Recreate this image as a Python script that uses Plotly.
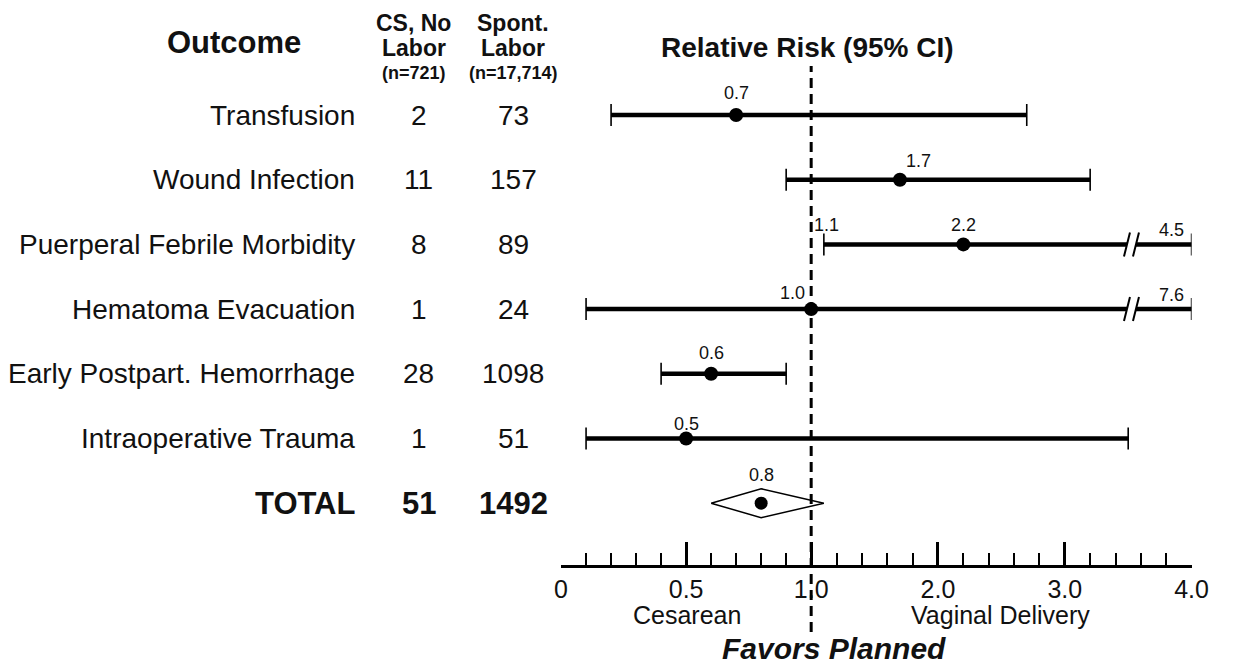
import plotly.graph_objects as go

# ---------------- data ----------------
outcomes = ["Transfusion", "Wound Infection", "Puerperal Febrile Morbidity",
            "Hematoma Evacuation", "Early Postpart. Hemorrhage", "Intraoperative Trauma"]
cs_no_labor = [2, 11, 8, 1, 28, 1]
spont_labor = [73, 157, 89, 24, 1098, 51]
rel_risk = [0.7, 1.7, 2.2, 1.0, 0.6, 0.5]
ci_low = [0.2, 0.9, 1.1, 0.1, 0.4, 0.1]
ci_high = [2.7, 3.2, 4.5, 7.6, 0.9, 3.5]

total_label = "TOTAL"
total_cs = 51
total_spont = 1492
total_rr = 0.8
total_low = 0.6
total_high = 1.1

col1_header = ["CS, No", "Labor", "(n=721)"]
col2_header = ["Spont.", "Labor", "(n=17,714)"]

tick_values = [0, 0.5, 1.0, 2.0, 3.0, 4.0]
tick_labels = ["0", "0.5", "1.0", "2.0", "3.0", "4.0"]
minor_values = [0.1, 0.2, 0.3, 0.4, 0.6, 0.7, 0.8, 0.9,
                1.2, 1.4, 1.6, 1.8, 2.2, 2.4, 2.6, 2.8, 3.2, 3.4, 3.6, 3.8]
axis_max = 4.0
ref_value = 1.0
break_at = 3.53

# extra labels for CI bounds (row index, which bound)
bound_labels = [(2, "low"), (2, "high"), (3, "high")]

# ---------------- scale (broken axis: 0-1 wide, 1-4 compressed) ----------------
RIGHT_SCALE = 0.507


def sx(v):
    return v if v <= 1 else 1 + (v - 1) * RIGHT_SCALE


# ---------------- layout geometry / style ----------------
W, H = 1239, 668
AX_Y = 565
ROW0, ROW_STEP = 115, 64.7
X0_PX, X1_PX = 565, 1208
FONT = "Liberation Sans, Arial, Helvetica, sans-serif"
INK = "#111111"


def px(x):
    return x / W


def py(y):
    return 1 - y / H


n = len(outcomes)
rows = list(range(n))
total_row = n

fig = go.Figure()

# CI lines
xs, ys = [], []
for i in rows:
    xs += [sx(ci_low[i]), sx(min(ci_high[i], axis_max)), None]
    ys += [i, i, None]
fig.add_trace(go.Scatter(x=xs, y=ys, mode="lines", line=dict(color="black", width=4.5),
                         cliponaxis=False, hoverinfo="skip"))

# points with end caps
fig.add_trace(go.Scatter(
    x=[sx(v) for v in rel_risk], y=rows, mode="markers",
    marker=dict(size=14, color="black"),
    error_x=dict(type="data", symmetric=False,
                 array=[sx(min(h, axis_max)) - sx(p) for h, p in zip(ci_high, rel_risk)],
                 arrayminus=[sx(p) - sx(l) for p, l in zip(rel_risk, ci_low)],
                 width=11, thickness=1.6, color="black"),
    cliponaxis=False))

# total diamond
DH = 14.5 / ROW_STEP
fig.add_trace(go.Scatter(
    x=[sx(total_low), sx(total_rr), sx(total_high), sx(total_rr), sx(total_low)],
    y=[total_row, total_row - DH, total_row, total_row + DH, total_row],
    mode="lines", fill="toself", fillcolor="white",
    line=dict(color="black", width=1.5), cliponaxis=False))
fig.add_trace(go.Scatter(x=[sx(total_rr)], y=[total_row], mode="markers",
                         marker=dict(size=13, color="black"), cliponaxis=False))

shapes = []
# reference dashed line
shapes.append(dict(type="line", xref="x", yref="paper", x0=sx(ref_value), x1=sx(ref_value),
                   y0=py(632), y1=py(66), layer="above",
                   line=dict(color="black", width=3, dash="10px,6px")))
# axis-break marks
for i in rows:
    if ci_high[i] > axis_max:
        common = dict(xref="x", yref="y", xsizemode="pixel", ysizemode="pixel",
                      xanchor=sx(break_at), yanchor=i, layer="above")
        shapes.append(dict(type="rect", x0=-5, x1=4, y0=-4, y1=4,
                           fillcolor="white", line=dict(width=0), **common))
        shapes.append(dict(type="line", x0=-8, x1=-2, y0=-12, y1=12,
                           line=dict(color="black", width=2), **common))
        shapes.append(dict(type="line", x0=1, x1=7, y0=-12, y1=12,
                           line=dict(color="black", width=2), **common))

ann = []
val_font = dict(family=FONT, size=18, color=INK)
# value label offsets (style)
pt_offsets = [(0, 22), (19, 19), (0, 19), (-19, 16), (0, 21), (0, 15)]
for i in rows:
    dx, dy = pt_offsets[i]
    ann.append(dict(x=sx(rel_risk[i]), y=i, xref="x", yref="y", text=f"{rel_risk[i]:.1f}",
                    showarrow=False, xshift=dx, yshift=dy, font=val_font,
                    xanchor="center", yanchor="middle"))
bound_offsets = {"low": (3, 19), "high": (-20, 14)}
for i, which in bound_labels:
    v = ci_low[i] if which == "low" else ci_high[i]
    xpos = sx(ci_low[i]) if which == "low" else sx(min(ci_high[i], axis_max))
    dx, dy = bound_offsets[which]
    ann.append(dict(x=xpos, y=i, xref="x", yref="y", text=f"{v:.1f}",
                    showarrow=False, xshift=dx, yshift=dy, font=val_font,
                    xanchor="center", yanchor="middle"))
ann.append(dict(x=sx(total_rr), y=total_row, xref="x", yref="y", text=f"{total_rr:.1f}",
                showarrow=False, yshift=28, font=val_font, xanchor="center", yanchor="middle"))

# table text
row_font = dict(family=FONT, size=28, color=INK)
for i in rows:
    ann.append(dict(x=px(357), y=i, xref="paper", yref="y", text=outcomes[i],
                    xanchor="right", yanchor="middle", showarrow=False, font=row_font))
    ann.append(dict(x=px(420), y=i, xref="paper", yref="y", text=str(cs_no_labor[i]),
                    xanchor="center", yanchor="middle", showarrow=False, font=row_font))
    ann.append(dict(x=px(516), y=i, xref="paper", yref="y", text=str(spont_labor[i]),
                    xanchor="center", yanchor="middle", showarrow=False, font=row_font))
tot_font = dict(family=FONT, size=31, color=INK)
ann.append(dict(x=px(357), y=total_row, xref="paper", yref="y", text=f"<b>{total_label}</b>",
                xanchor="right", yanchor="middle", showarrow=False, font=tot_font))
ann.append(dict(x=px(420), y=total_row, xref="paper", yref="y", text=f"<b>{total_cs}</b>",
                xanchor="center", yanchor="middle", showarrow=False, font=tot_font))
ann.append(dict(x=px(516), y=total_row, xref="paper", yref="y", text=f"<b>{total_spont}</b>",
                xanchor="center", yanchor="middle", showarrow=False, font=tot_font))


def paper_text(x, y, text, size):
    return dict(x=px(x), y=py(y), xref="paper", yref="paper", text=text,
                xanchor="center", yanchor="middle", showarrow=False, borderpad=0,
                font=dict(family=FONT, size=size, color=INK))


# headers
ann.append(paper_text(231, 42, "<b>Outcome</b>", 31))
head_sizes = [23, 23, 18]
head_ys = [23, 48, 73]
for hx, lines in [(415, col1_header), (516, col2_header)]:
    for t, s, yy in zip(lines, head_sizes, head_ys):
        ann.append(paper_text(hx, yy, f"<b>{t}</b>", s))
ann.append(paper_text(816, 47, "<b>Relative Risk (95% CI)</b>", 28))
ann.append(paper_text(693, 615, "Cesarean", 25))
ann.append(paper_text(1013, 615, "Vaginal Delivery", 25))
ann.append(paper_text(843, 648, "<b><i>Favors Planned</i></b>", 30))

fig.update_layout(
    width=W, height=H, margin=dict(l=0, r=0, t=0, b=0),
    paper_bgcolor="white", plot_bgcolor="white", showlegend=False,
    shapes=shapes, annotations=ann,
    xaxis=dict(domain=[px(X0_PX), px(X1_PX)], range=[0, sx(axis_max)],
               showgrid=False, zeroline=False, showline=True, linecolor="black", linewidth=3,
               ticks="inside", ticklen=23, tickwidth=3, tickcolor="black",
               tickvals=[sx(v) for v in tick_values], ticktext=tick_labels,
               tickfont=dict(family=FONT, size=25, color=INK), ticklabelstandoff=0,
               minor=dict(tickvals=[sx(v) for v in minor_values], ticks="inside",
                          ticklen=12, tickwidth=2, tickcolor="black"),
               fixedrange=True),
    yaxis=dict(domain=[1 - AX_Y / H, 1],
               range=[(AX_Y - ROW0) / ROW_STEP, -ROW0 / ROW_STEP],
               visible=False, fixedrange=True),
)

fig.write_html("out.html")
